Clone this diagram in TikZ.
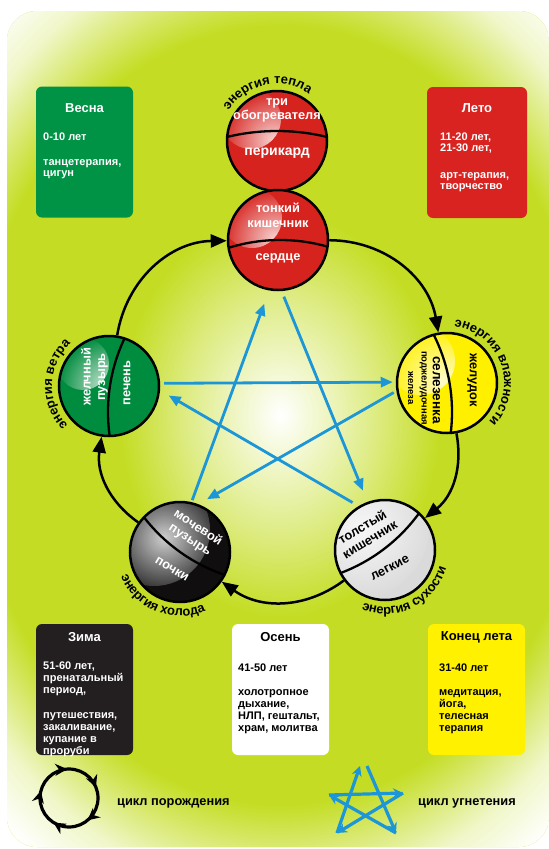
\documentclass[tikz,border=0pt]{standalone}
\usepackage{fontspec}
\setmainfont{Liberation Sans}
\usetikzlibrary{arrows.meta,decorations.text,decorations.markings,fadings}
\definecolor{bglime}{RGB}{196,221,36}
\colorlet{bgpale}{bglime!25!white}
\colorlet{bgmid}{bglime!55!white}
\definecolor{sred}{RGB}{215,35,30}
\definecolor{sgreen}{RGB}{0,140,62}
\definecolor{syellow}{RGB}{255,240,0}
\definecolor{sgray}{RGB}{218,218,218}
\definecolor{sblack}{RGB}{16,14,14}
\definecolor{bgreen}{RGB}{0,146,69}
\definecolor{bred}{RGB}{216,35,32}
\definecolor{bblack}{RGB}{35,31,32}
\definecolor{byellow}{RGB}{255,241,0}
\definecolor{starblue}{RGB}{28,150,214}
\pgfdeclareradialshading{bgshade}{\pgfpoint{0bp}{0bp}}{color(0bp)=(white); color(2.5bp)=(bgpale); color(5.5bp)=(bgmid); color(9.5bp)=(bglime); color(18.4bp)=(bglime); color(22.6bp)=(bgpale); color(25.4bp)=(white); color(28.3bp)=(bgpale); color(32.5bp)=(bglime); color(50bp)=(bglime)}
\tikzfading[name=glowfade, inner color=transparent!0, outer color=transparent!100]
\newcommand\elfont{\bfseries\fontsize{13}{13}\selectfont}
\tikzset{
  sphere/.style={circle, minimum size=100pt, inner sep=0pt, draw=black, line width=2.5pt, fill=#1},
  glow/.style={path picture={\fill[white, fill opacity=0.8, path fading=glowfade] ([shift={(-26pt,22pt)}]path picture bounding box.center) circle (#1);}},
  intext/.style={font=\bfseries\fontsize{12.8}{14.5}\selectfont, text=white, align=center, inner sep=0pt},
  season/.style={rounded corners=6pt, minimum width=97pt, minimum height=131pt, inner sep=0pt, fill=#1},
  boxtitle/.style={font=\bfseries\fontsize{13}{15}\selectfont, inner sep=0pt},
  boxbody/.style={align=left, anchor=north west, inner sep=0pt},
  cyc/.style={line width=2.5pt, draw=black, -{Triangle[length=16pt,width=13pt]}},
  starln/.style={line width=2.8pt, draw=starblue, -{Triangle[length=12pt,width=10pt,fill=starblue]}},
  elabel/.style={decorate, decoration={text along path, text align=center, text={|\elfont|#1}}},
  legtext/.style={font=\bfseries\fontsize{12.8}{14}\selectfont, inner sep=0pt, anchor=west},
  legstar/.style={line width=3.2pt, draw=starblue, -{Stealth[length=10pt,width=10pt,fill=starblue]}}
}
\begin{document}
\begin{tikzpicture}[x=1pt,y=1pt]
\useasboundingbox (0,0) rectangle (549,-849);
\fill[white] (0,0) rectangle (549,-849);
\begin{scope}
  \clip[rounded corners=30pt] (7,-11) rectangle (549,-847);
  \fill[bglime] (0,0) rectangle (549,-849);
  \shade[shading=bgshade] (-140,115) rectangle (700,-945);
\end{scope}

% season boxes
\node[season=bgreen] (spring) at (84.5,-152) {};
\node[boxtitle, text=white] (springT) at (84.5,-108) {Весна};
\node[boxbody, text=white, font=\bfseries\fontsize{11}{11}\selectfont] (springB) at (43,-133) {0-10 лет\\[14pt]танцетерапия,\\цигун};

\node[season=bred, minimum width=100pt] (summer) at (477,-152.5) {};
\node[boxtitle, text=white] (summerT) at (477,-108) {Лето};
\node[boxbody, text=white, font=\bfseries\fontsize{11}{10.5}\selectfont] (summerB) at (440,-133) {11-20 лет,\\21-30 лет,\\[17pt]арт-терапия,\\творчество};

\node[season=bblack] (winter) at (84.5,-689.5) {};
\node[boxtitle, text=white] (winterT) at (84.5,-637) {Зима};
\node[boxbody, text=white, font=\bfseries\fontsize{11}{12}\selectfont] (winterB) at (43,-661.5) {51-60 лет,\\пренатальный\\период,\\[13pt]путешествия,\\закаливание,\\купание в\\проруби};

\node[season=white] (autumn) at (280.5,-689.5) {};
\node[boxtitle, text=black] (autumnT) at (280.5,-637) {Осень};
\node[boxbody, text=black, font=\bfseries\fontsize{11}{12}\selectfont] (autumnB) at (238,-663.5) {41-50 лет\\[12pt]холотропное\\дыхание,\\НЛП, гештальт,\\храм, молитва};

\node[season=byellow] (late) at (476.5,-689.5) {};
\node[boxtitle, text=black] (lateT) at (476.5,-637) {Конец лета};
\node[boxbody, text=black, font=\bfseries\fontsize{11}{12}\selectfont] (lateB) at (439,-663.5) {31-40 лет\\[12pt]медитация,\\йога,\\телесная\\терапия};

% spheres
\node[sphere=sred, glow=30pt] (P) at (277,-141) {};
\node[sphere=sred, glow=30pt] (T) at (278,-240) {};
\node[sphere=sgreen, glow=26pt] (G) at (109,-386) {};
\node[sphere=syellow, glow=34pt] (Y) at (447,-383) {};
\node[sphere=sgray, glow=70pt] (W) at (385,-550) {};
\node[sphere=sblack, glow=56pt] (K) at (180,-552) {};

% dividing lines
\begin{scope}
  \clip (P.center) circle (50pt);
  \draw[line width=2.3pt] (277,-342) circle (211pt);
\end{scope}
\begin{scope}
  \clip (T.center) circle (50pt) (G.center) circle (50pt) (Y.center) circle (50pt) (W.center) circle (50pt) (K.center) circle (50pt);
  \draw[line width=2.3pt] (280,-412) circle (172pt);
\end{scope}

% sphere texts
\node[intext] (Pt) at (277,-110.5) {три\\обогревателя};
\node[intext, font=\bfseries\fontsize{14}{15}\selectfont] (Pb) at (277,-153) {перикард};
\node[intext] (Tt) at (278,-215.5) {тонкий\\кишечник};
\node[intext] (Tb) at (278,-258) {сердце};
\node[intext, rotate=90] (Gt) at (94.5,-377) {желчный\\пузырь};
\node[intext, rotate=90] (Gb) at (127,-383) {печень};
\node[intext, text=black, rotate=-90] (Yt) at (472,-380) {желудок};
\node[intext, text=black, rotate=-90, font=\bfseries\fontsize{13.5}{15}\selectfont] (Ys) at (436.5,-390) {селезенка};
\node[intext, text=black, rotate=-90, font=\bfseries\fontsize{9.5}{13.5}\selectfont] (Yp) at (417.5,-388) {поджелудочная\\железа};
\node[intext, rotate=-33] (Kt) at (194,-534) {мочевой\\пузырь};
\node[intext, rotate=-31] (Kb) at (172,-569) {почки};
\node[intext, text=black, rotate=31] (Wt) at (366,-533) {толстый\\кишечник};
\node[intext, text=black, rotate=28] (Wb) at (390,-568) {легкие};

% energy labels
\path[elabel={энергия тепла}] ([shift={(172:57pt)}]P.center) arc[start angle=172, end angle=32, radius=57pt];
\path[elabel={энергия ветра}] ([shift={(248:57pt)}]G.center) arc[start angle=248, end angle=108, radius=57pt];
\path[elabel={энергия влажности}] ([shift={(110:57pt)}]Y.center) arc[start angle=110, end angle=-70, radius=57pt];
\path[elabel={энергия холода}] ([shift={(-200:64pt)}]K.center) arc[start angle=-200, end angle=-24, radius=64pt];
\path[elabel={энергия сухости}] ([shift={(-150:64pt)}]W.center) arc[start angle=-150, end angle=22, radius=64pt];

% generating cycle
\draw[cyc] (T) to[bend left=40] (Y);
\draw[cyc] (Y) to[bend left=31] (W);
\draw[cyc] (W) to[bend left=36] (K);
\draw[cyc] (K) to[bend left=31.5] (G);
\draw[cyc] (G) to[bend left=40] (T);

% controlling star
\draw[starln, shorten <=2pt, shorten >=14pt] (K.77) -- (T.260);
\draw[starln, shorten <=6pt, shorten >=12pt] (T.274) -- (W.110);
\draw[starln, shorten <=4pt, shorten >=3pt] (G.3) -- (Y.179);
\draw[starln, shorten <=3pt, shorten >=10pt] (Y.189) -- (K.69);
\draw[starln, shorten <=7pt, shorten >=10pt] (W.121) -- (G.355);

% legend
\coordinate (lc) at (69,-798);
\draw[line width=3.2pt, postaction={decorate, decoration={markings, mark=between positions 0.06 and 0.99 step 0.2 with {\arrowreversed{Stealth[length=12pt,width=12pt]}}}}] (lc) circle (29pt);
\node[legtext] (l1) at (117,-803) {цикл порождения};

\coordinate (s1a) at (360,-766);
\coordinate (s1b) at (367,-766);
\coordinate (s2) at (403,-793);
\coordinate (s3) at (396,-833);
\coordinate (s4) at (337,-833);
\coordinate (s5) at (329,-795);
\draw[legstar] (s4) -- (s1a);
\draw[legstar] (s1b) -- (s3);
\draw[legstar] (s5) -- (s2);
\draw[legstar] (s2) -- (s4);
\draw[legstar] (s3) -- (s5);
\node[legtext] (l2) at (418,-803) {цикл угнетения};
\end{tikzpicture}
\end{document}
